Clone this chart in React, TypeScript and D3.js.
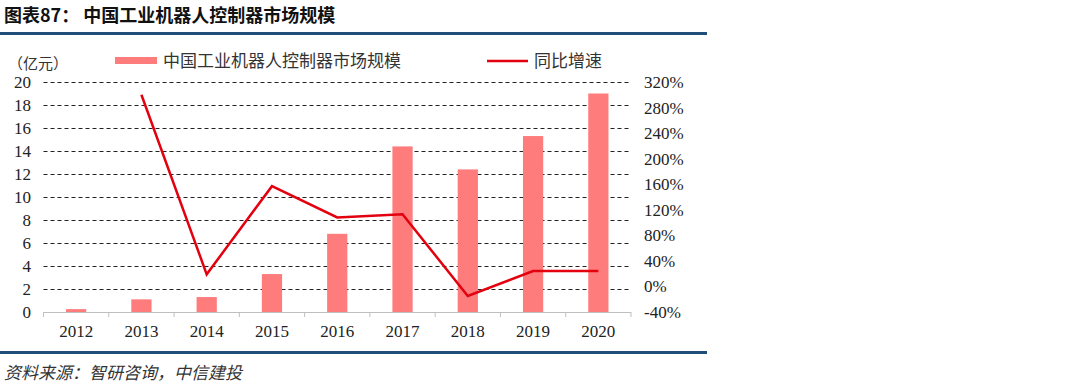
import * as d3 from "d3";
import { useEffect, useRef } from "react";

const years = ["2012", "2013", "2014", "2015", "2016", "2017", "2018", "2019", "2020"];
const marketSize = [0.25, 1.1, 1.3, 3.3, 6.8, 14.4, 12.4, 15.3, 19.0];
const growth: (number | null)[] = [null, 300, 19, 157, 108, 113, -15, 24, 24];
const leftTicks = [0, 2, 4, 6, 8, 10, 12, 14, 16, 18, 20];
const rightTicks = [-40, 0, 40, 80, 120, 160, 200, 240, 280, 320];

const barName = "中国工业机器人控制器市场规模";
const lineName = "同比增速";

const serif = "'Liberation Serif', 'Times New Roman', serif";
const cjk = "'Noto Sans CJK SC', sans-serif";

export default function App() {
  const ref = useRef<SVGSVGElement | null>(null);

  useEffect(() => {
    const el = ref.current;
    if (!el) return;
    const svg = d3.select(el);
    svg.selectAll("*").remove();

    const W = 1080;
    const H = 384;
    const left = 43.5;
    const right = 631;
    const top = 82;
    const bottom = 312;

    svg.attr("width", W).attr("height", H).attr("viewBox", `0 0 ${W} ${H}`);
    svg.append("rect").attr("width", W).attr("height", H).attr("fill", "#fff");

    // header
    svg.append("text")
      .attr("x", 4).attr("y", 22)
      .attr("font-family", cjk).attr("font-weight", 700).attr("font-size", 18)
      .attr("fill", "#111")
      .text("图表87：  中国工业机器人控制器市场规模");
    svg.append("rect").attr("x", 0).attr("y", 32).attr("width", 707).attr("height", 3).attr("fill", "#1f4e79");
    svg.append("rect").attr("x", 0).attr("y", 351).attr("width", 707).attr("height", 3).attr("fill", "#1f4e79");
    svg.append("text")
      .attr("x", 4).attr("y", 379)
      .attr("font-family", cjk).attr("font-style", "italic").attr("font-size", 17)
      .attr("fill", "#333")
      .text("资料来源：智研咨询，中信建投");

    const x = d3.scaleBand().domain(years).range([left, right]).paddingInner(0.69).paddingOuter(0.345);
    const xc = d3.scalePoint().domain(years).range([left, right]).padding(0.5);
    const y = d3.scaleLinear().domain([0, 20]).range([bottom, top]);
    const y2 = d3.scaleLinear().domain([-40, 320]).range([bottom, top]);

    // grid
    svg.append("g")
      .selectAll("line")
      .data(leftTicks.filter((t) => t > 0))
      .join("line")
      .attr("x1", left).attr("x2", right)
      .attr("y1", (d) => y(d) + 0.5).attr("y2", (d) => y(d) + 0.5)
      .attr("stroke", "#222").attr("stroke-width", 1).attr("stroke-dasharray", "4,3");

    // bars
    svg.append("g")
      .selectAll("rect")
      .data(years)
      .join("rect")
      .attr("x", (d) => x(d) ?? 0)
      .attr("width", x.bandwidth())
      .attr("y", (_, i) => y(marketSize[i]))
      .attr("height", (_, i) => bottom - y(marketSize[i]))
      .attr("fill", "#ff7c7c");

    // x axis
    const step = (right - left) / years.length;
    svg.append("line")
      .attr("x1", left).attr("x2", right).attr("y1", bottom + 0.5).attr("y2", bottom + 0.5)
      .attr("stroke", "#bfbfbf");
    svg.append("g")
      .selectAll("line")
      .data(d3.range(years.length + 1))
      .join("line")
      .attr("x1", (i) => left + i * step).attr("x2", (i) => left + i * step)
      .attr("y1", bottom).attr("y2", bottom + 5)
      .attr("stroke", "#bfbfbf");
    svg.append("g")
      .selectAll("text")
      .data(years)
      .join("text")
      .attr("x", (d) => xc(d) ?? 0)
      .attr("y", bottom + 25)
      .attr("text-anchor", "middle")
      .attr("font-family", serif).attr("font-size", 17).attr("fill", "#222")
      .text((d) => d);

    // left axis labels
    svg.append("g")
      .selectAll("text")
      .data(leftTicks)
      .join("text")
      .attr("x", 31)
      .attr("y", (d) => y(d) + 6)
      .attr("text-anchor", "end")
      .attr("font-family", serif).attr("font-size", 17).attr("fill", "#222")
      .text((d) => String(d));
    svg.append("text")
      .attr("x", 8).attr("y", 69)
      .attr("font-family", cjk).attr("font-size", 15).attr("fill", "#333")
      .text("（亿元）");

    // right axis labels
    svg.append("g")
      .selectAll("text")
      .data(rightTicks)
      .join("text")
      .attr("x", 644)
      .attr("y", (d) => y2(d) + 6)
      .attr("font-family", serif).attr("font-size", 17).attr("fill", "#222")
      .text((d) => `${d}%`);

    // line
    const pts = years.map((yr, i) => ({ yr, v: growth[i] })).filter((p) => p.v !== null) as { yr: string; v: number }[];
    const line = d3.line<{ yr: string; v: number }>()
      .x((d) => xc(d.yr) ?? 0)
      .y((d) => y2(d.v));
    svg.append("path")
      .datum(pts)
      .attr("d", line)
      .attr("fill", "none")
      .attr("stroke", "#e3000f")
      .attr("stroke-width", 2.5);

    // legend
    svg.append("rect").attr("x", 115).attr("y", 57).attr("width", 42).attr("height", 7).attr("fill", "#ff7c7c");
    svg.append("text")
      .attr("x", 163).attr("y", 67)
      .attr("font-family", cjk).attr("font-size", 17).attr("fill", "#333")
      .text(barName);
    svg.append("line").attr("x1", 487).attr("x2", 528).attr("y1", 61).attr("y2", 61)
      .attr("stroke", "#e3000f").attr("stroke-width", 2.5);
    svg.append("text")
      .attr("x", 534).attr("y", 67)
      .attr("font-family", cjk).attr("font-size", 17).attr("fill", "#333")
      .text(lineName);
  }, []);

  return <svg ref={ref} style={{ position: "absolute", left: 0, top: 0, display: "block" }} />;
}
